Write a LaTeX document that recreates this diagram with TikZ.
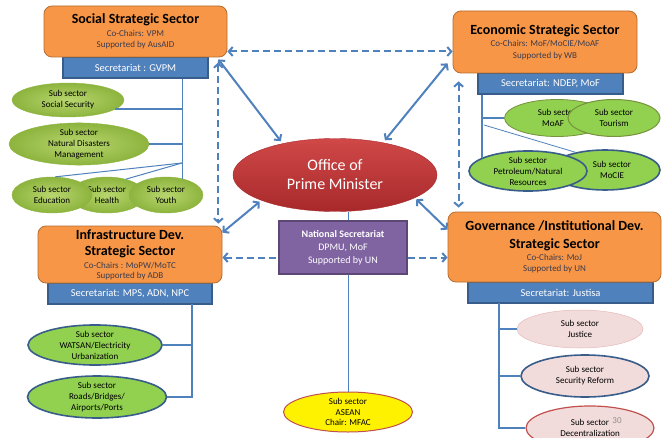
\documentclass[tikz,border=0pt]{standalone}
\usepackage{fontspec}
\setmainfont{Carlito}
\usetikzlibrary{shapes.geometric,arrows.meta}

\definecolor{sectfill}{HTML}{F79646}
\definecolor{sectedge}{HTML}{B66D31}
\definecolor{secfill}{HTML}{4F81BD}
\definecolor{secedge}{HTML}{385D8A}
\definecolor{linkblue}{HTML}{4F81BD}
\definecolor{leafgreen}{HTML}{92D050}
\definecolor{leafolive}{HTML}{76923C}
\definecolor{socinner}{HTML}{B8D66E}
\definecolor{socouter}{HTML}{8DB43E}
\definecolor{leafpink}{HTML}{F2DCDB}
\definecolor{pinkedge}{HTML}{E6B9B8}
\definecolor{leafred}{HTML}{C0504D}
\definecolor{pmtop}{HTML}{D04848}
\definecolor{pmbottom}{HTML}{A8292B}
\definecolor{natpurple}{HTML}{8064A2}
\definecolor{natedge}{HTML}{5C4776}
\definecolor{subtext}{HTML}{3B3B4F}

\newcommand\sectorhead{\fontsize{14}{16}\selectfont\bfseries}
\newcommand\sectorsub{\fontsize{9}{11.5}\selectfont\color{subtext}}

\tikzset{
  sector/.style={draw=sectedge, fill=sectfill, line width=0.8pt, rounded corners=8pt,
    inner sep=0pt, align=center, font=\fontsize{9}{11.5}\selectfont},
  secbar/.style={draw=secedge, fill=secfill, line width=1.2pt, inner sep=0pt,
    text=white, font=\fontsize{10.5}{12}\selectfont},
  leaf/.style={ellipse, inner sep=0pt, align=center, font=\fontsize{9}{11}\selectfont},
  socleaf/.style={leaf, draw=socouter, inner color=socinner, outer color=socouter},
  greenleaf/.style={leaf, fill=leafgreen, draw=#1, line width=1.6pt},
  pinkleaf/.style={leaf, fill=leafpink, draw=#1, line width=1.6pt},
  tree/.style={linkblue, line width=1.5pt},
  link/.style={linkblue, line width=2pt, <->},
  dashlink/.style={link, dash pattern=on 7pt off 4pt},
}

\begin{document}
\begin{tikzpicture}[x=1pt,y=-1pt,>={Straight Barb[length=4pt,width=9pt]}]
\useasboundingbox (0,0) rectangle (668,438);

% sectors and their secretariats
\node[secbar, minimum width=145pt, minimum height=21pt] (socsec) at (135.5,67.5) {Secretariat : GVPM};
\node[sector, minimum width=183pt, minimum height=51pt] (social) at (135.5,31.5)
  {\sectorhead Social Strategic Sector\\[1pt] \sectorsub Co-Chairs: VPM\\ \sectorsub Supported by AusAID};

\node[secbar, minimum width=145pt, minimum height=21pt] (econsec) at (550.5,83.5) {Secretariat: NDEP, MoF};
\node[sector, minimum width=184pt, minimum height=62pt] (econ) at (545,42)
  {\sectorhead Economic Strategic Sector\\[1pt] \sectorsub Co-Chairs: MoF/MoCIE/MoAF\\ \sectorsub Supported by WB};

\node[secbar, minimum width=164pt, minimum height=21pt] (infrasec) at (130,293.5) {Secretariat: MPS, ADN, NPC};
\node[sector, minimum width=184pt, minimum height=57pt] (infra) at (130,254.5)
  {\sectorhead Infrastructure Dev.\\[5pt] \sectorhead Strategic Sector\\[1pt] \sectorsub Co-Chairs : MoPW/MoTC\\[-1.5pt] \sectorsub Supported by ADB};

\node[secbar, minimum width=185pt, minimum height=21pt] (govsec) at (560.5,292.5) {Secretariat: Justisa};
\node[sector, minimum width=213pt, minimum height=70pt] (gov) at (554.5,247)
  {\sectorhead Governance /Institutional Dev.\\[6pt] \sectorhead Strategic Sector\\[1pt] \sectorsub Co-Chairs: MoJ\\[-1pt] \sectorsub Supported by UN};

% social sub sectors
\node[socleaf, minimum width=112pt, minimum height=34pt] (socsecur) at (68,100) {Sub sector\\Social Security};
\node[socleaf, minimum width=140pt, minimum height=38pt] (natdis) at (79,144) {Sub sector\\Natural Disasters\\Management};
\node[socleaf, minimum width=76pt, minimum height=36pt] (health) at (107,195) {Sub sector\\Health};
\node[socleaf, minimum width=80pt, minimum height=36pt] (educ) at (52,195) {Sub sector\\Education};
\node[socleaf, minimum width=74pt, minimum height=36pt] (youth) at (166,195) {Sub sector\\Youth};

% economic sub sectors
\node[greenleaf=leafolive, line width=0.8pt, minimum width=105pt, minimum height=37pt] (moaf) at (557,118) {Sub sector\\MoAF\hspace*{8pt}};
\node[greenleaf=leafolive, line width=1pt, minimum width=92pt, minimum height=37pt] (tourism) at (614,118) {Sub sector\\Tourism};
\node[greenleaf=secedge, minimum width=110pt, minimum height=40pt] (mocie) at (605,170) {\hspace*{14pt}Sub sector\\\hspace*{14pt}MoCIE};
\node[greenleaf=secedge, minimum width=118pt, minimum height=38pt] (petro) at (528,171) {Sub sector\\Petroleum/Natural\\Resources};

% infrastructure sub sectors
\node[greenleaf=secedge, minimum width=134pt, minimum height=40pt] (watsan) at (95,345) {Sub sector\\WATSAN/Electricity\\Urbanization};
\node[greenleaf=secedge, minimum width=139pt, minimum height=40pt] (roads) at (97,397) {Sub sector\\Roads/Bridges/\\Airports/Ports};

% governance sub sectors
\node[pinkleaf=pinkedge, line width=0.5pt, minimum width=126pt, minimum height=38pt] (justice) at (580,329) {Sub sector\\Justice};
\node[pinkleaf=secedge, minimum width=128pt, minimum height=42pt] (secref) at (585,376) {Sub sector\\Security Reform};
\node[pinkleaf=leafred, line width=1.2pt, minimum width=128pt, minimum height=44pt] (decent) at (590,428) {Sub sector\\Decentralization};
\node[text=black!45, font=\fontsize{9}{10}\selectfont] (pagenum) at (617,421) {30};

% centre
\node[ellipse, draw=pmbottom, top color=pmtop, bottom color=pmbottom, minimum width=204pt, minimum height=73pt,
  inner sep=0pt, align=center, text=white, font=\fontsize{16}{19}\selectfont] (pm) at (335,175) {Office of\\Prime Minister};
\node[leaf, fill=yellow, draw=leafred, line width=1pt, minimum width=129pt, minimum height=40pt,
  font=\fontsize{9}{10.5}\selectfont] (asean) at (348,412) {Sub sector\\ASEAN\\Chair: MFAC};
\draw[linkblue, line width=1pt] (asean.north) -- (asean.north |- pm.south);
\node[draw=natedge, fill=natpurple, line width=1.5pt, minimum width=128pt, minimum height=53pt, inner sep=0pt,
  align=center, text=white, font=\fontsize{10}{13}\selectfont] (natsec) at (343,247.5)
  {\textbf{National Secretariat}\\DPMU, MoF\\Supported by UN};

% trees
\coordinate (st) at (youth.45 |- socsec.south);
\coordinate (sfork) at (182,163);
\draw[tree] (st) -- (youth.45);
\draw[tree] (socsecur.-11) -- (socsecur.-11 -| st);
\draw[tree] (natdis.east) -- (natdis.east -| st);
\draw[linkblue, line width=1pt] (sfork) -- (educ.80);
\draw[linkblue, line width=1pt] (sfork) -- (health.40);

\coordinate (et) at (petro.164 |- econsec.south);
\coordinate (efork) at (484,125);
\draw[tree] (et) -- (petro.164);
\draw[tree] (moaf.west) -- (moaf.west -| et);
\draw[linkblue, line width=0.8pt] (efork) -- (mocie.149);

\coordinate (it) at (192,304);
\draw[tree] (watsan.east) -| (it);
\draw[tree] (roads.east) -| (it);

\coordinate (gt) at (499,303);
\draw[tree] (justice.west) -| (gt);
\draw[tree] (secref.west) -| (gt);
\draw[tree] (decent.west) -| (gt);

% links
\draw[dashlink] ([yshift=-20pt]social.east) -- ([yshift=-20pt]social.east -| econ.west);
\draw[link, shorten >=3pt] ([xshift=-9pt,yshift=-2pt]social.south east) -- (pm.149);
\draw[link, shorten >=3pt] ([xshift=-5pt,yshift=10pt]econ.south west) -- (pm.34);
\draw[dashlink, shorten <=5pt, shorten >=2pt] ([xshift=-9pt]social.south east) -- ([xshift=-9pt]social.south east |- infra.north);
\draw[dashlink, shorten <=8pt, shorten >=4pt] ([xshift=6pt]econ.south west) -- ([xshift=6pt]econ.south west |- gov.north);
\draw[link, shorten <=2pt] (pm.199) -- ([yshift=-7pt]infra.north east);
\draw[link, shorten <=2pt] (pm.-16) -- ([yshift=-18pt]gov.north west);
\draw[dashlink, <-] ([yshift=-10pt]natsec.west -| infra.east) -- ([yshift=-10pt]natsec.west);
\draw[dashlink, ->] ([yshift=-10pt]natsec.east) -- ([yshift=-10pt]natsec.east -| gov.west);
\end{tikzpicture}
\end{document}
